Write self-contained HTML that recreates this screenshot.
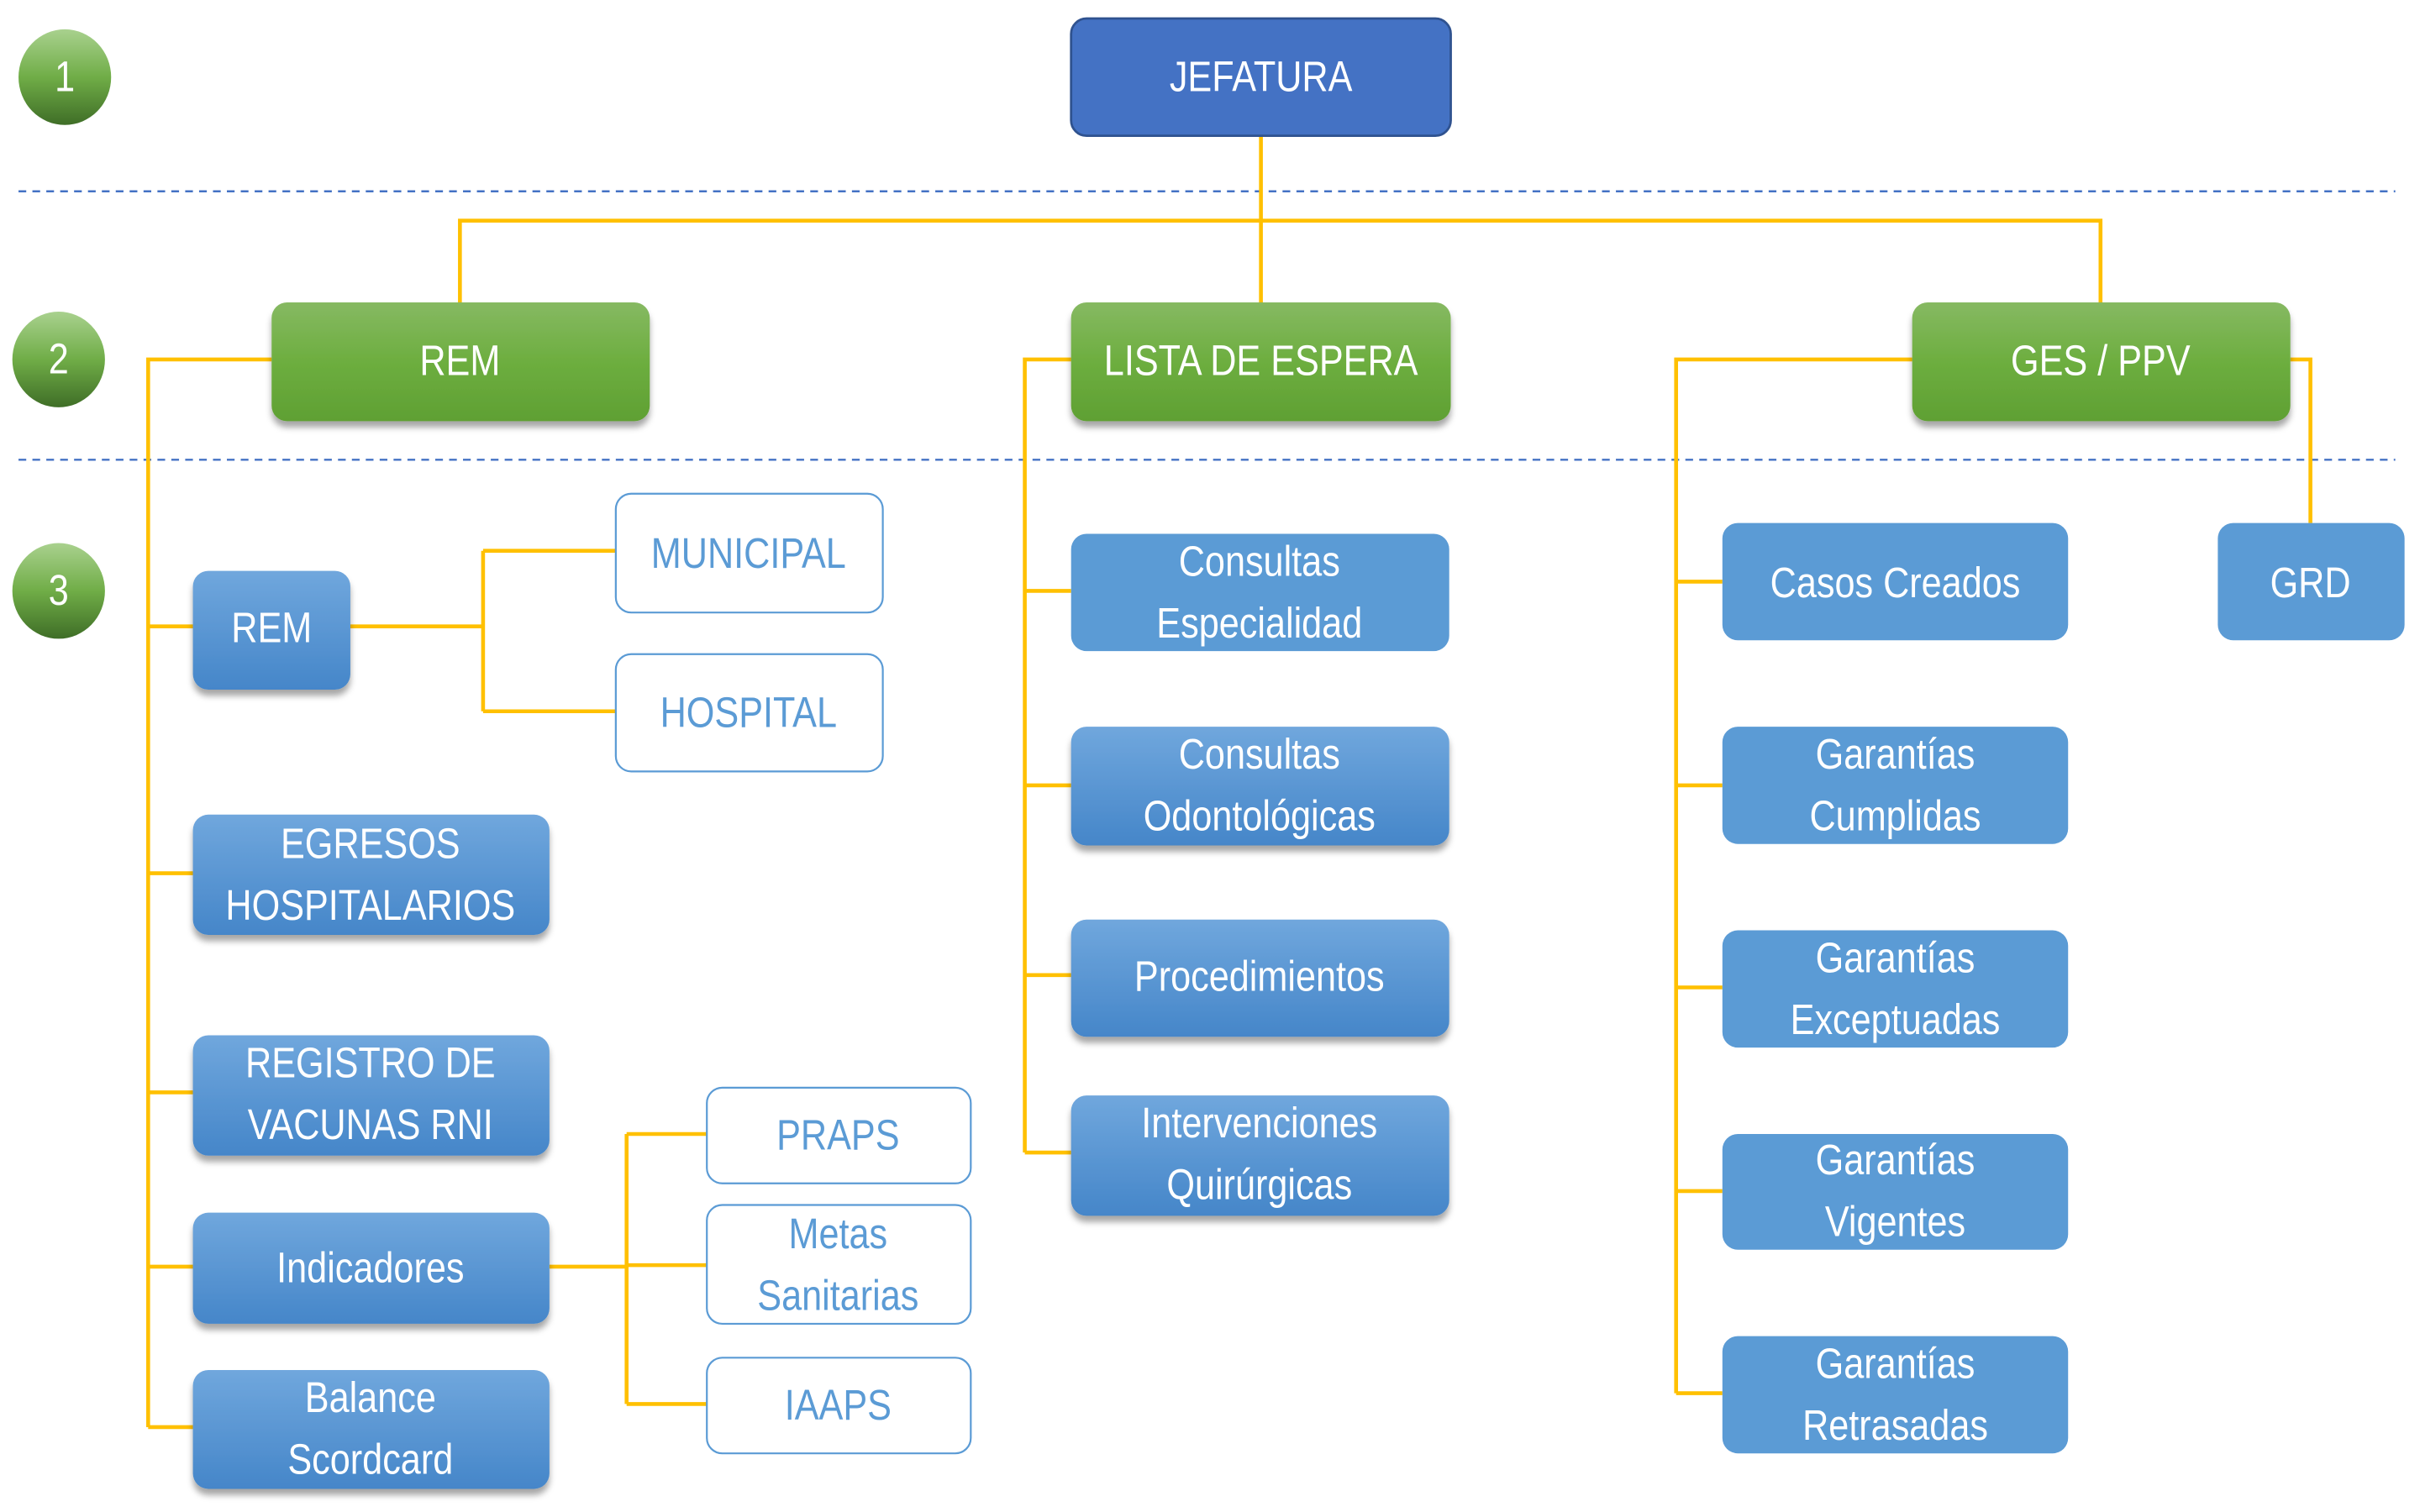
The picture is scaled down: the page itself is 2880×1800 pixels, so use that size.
<!DOCTYPE html>
<html><head><meta charset="utf-8"><style>
html,body{margin:0;padding:0;background:#fff;width:2880px;height:1800px;overflow:hidden}
svg{display:block}
text{font-family:"Liberation Sans",sans-serif;font-size:28px;text-anchor:middle;dominant-baseline:central;transform-box:fill-box;transform-origin:center;transform:scaleX(0.84)}
</style></head><body>
<svg width="2880" height="1800" viewBox="0 0 1568 980" xmlns="http://www.w3.org/2000/svg">
<defs>
<linearGradient id="cg" x1="0" y1="0" x2="0" y2="1"><stop offset="0" stop-color="#A9D18E"/><stop offset="0.5" stop-color="#70AD47"/><stop offset="1" stop-color="#3F6E27"/></linearGradient>
<linearGradient id="gg" x1="0" y1="0" x2="0" y2="1"><stop offset="0" stop-color="#86B962"/><stop offset="0.5" stop-color="#6DAE3F"/><stop offset="1" stop-color="#5FA033"/></linearGradient>
<linearGradient id="bg" x1="0" y1="0" x2="0" y2="1"><stop offset="0" stop-color="#70A7DD"/><stop offset="1" stop-color="#4586C9"/></linearGradient>
<filter id="sh" x="-10%" y="-10%" width="120%" height="130%"><feDropShadow dx="0" dy="4" stdDeviation="2" flood-color="#000" flood-opacity="0.35"/></filter>
</defs>

<g stroke="#4472C4" stroke-width="1.3" stroke-dasharray="5,4">
<line x1="12" y1="124" x2="1552" y2="124"/>
<line x1="12" y1="298" x2="1552" y2="298"/>
</g>

<g stroke="#FFC000" stroke-width="2.5" fill="none">
<path d="M817 88V196M298 196V143H1361V196"/>
<path d="M176 233H96V925M96 406H125M96 566H125M96 708H125M96 821H125M96 925H125"/>
<path d="M227 406H313M313 357V461M313 357H399M313 461H399"/>
<path d="M356 821H406M406 735V910M406 735H458M406 820H458M406 910H458"/>
<path d="M694 233H664V747M664 383H694M664 509H694M664 632H694M664 747H694"/>
<path d="M1239 233H1086V903M1086 377H1116M1086 509H1116M1086 640H1116M1086 772H1116M1086 903H1116"/>
<path d="M1484 233H1497V339"/>
</g>

<ellipse cx="42" cy="50" rx="30" ry="31" fill="url(#cg)"/>
<ellipse cx="38" cy="233" rx="30" ry="31" fill="url(#cg)"/>
<ellipse cx="38" cy="383" rx="30" ry="31" fill="url(#cg)"/>
<g fill="#fff"><text x="42" y="50">1</text><text x="38" y="233">2</text><text x="38" y="383">3</text></g>

<rect x="694" y="12" width="246" height="76" rx="10" fill="#4472C4" stroke="#2F528F" stroke-width="1.5"/>
<text x="817" y="50" fill="#fff">JEFATURA</text>

<g filter="url(#sh)" fill="url(#gg)">
<rect x="176" y="196" width="245" height="77" rx="10"/>
<rect x="694" y="196" width="246" height="77" rx="10"/>
<rect x="1239" y="196" width="245" height="77" rx="10"/>
</g>
<g fill="#fff">
<text x="298" y="234">REM</text>
<text x="817" y="234">LISTA DE ESPERA</text>
<text x="1361" y="234">GES / PPV</text>
</g>

<g filter="url(#sh)" fill="url(#bg)">
<rect x="125" y="370" width="102" height="77" rx="10"/>
<rect x="125" y="528" width="231" height="78" rx="10"/>
<rect x="125" y="671" width="231" height="78" rx="10"/>
<rect x="125" y="786" width="231" height="72" rx="10"/>
<rect x="125" y="888" width="231" height="77" rx="10"/>
<rect x="694" y="471" width="245" height="77" rx="10"/>
<rect x="694" y="596" width="245" height="76" rx="10"/>
<rect x="694" y="710" width="245" height="78" rx="10"/>
</g>
<g fill="#5B9BD5">
<rect x="694" y="346" width="245" height="76" rx="10"/>
<rect x="1116" y="339" width="224" height="76" rx="10"/>
<rect x="1116" y="471" width="224" height="76" rx="10"/>
<rect x="1116" y="603" width="224" height="76" rx="10"/>
<rect x="1116" y="735" width="224" height="75" rx="10"/>
<rect x="1116" y="866" width="224" height="76" rx="10"/>
<rect x="1437" y="339" width="121" height="76" rx="10"/>
</g>
<g fill="#fff" stroke="#5B9BD5" stroke-width="1.2">
<rect x="399" y="320" width="173" height="77" rx="10"/>
<rect x="399" y="424" width="173" height="76" rx="10"/>
<rect x="458" y="705" width="171" height="62" rx="10"/>
<rect x="458" y="781" width="171" height="77" rx="10"/>
<rect x="458" y="880" width="171" height="62" rx="10"/>
</g>

<g fill="#fff">
<text x="176" y="407">REM</text>
<text x="240" y="547">EGRESOS</text><text x="240" y="587">HOSPITALARIOS</text>
<text x="240" y="689">REGISTRO DE</text><text x="240" y="729">VACUNAS RNI</text>
<text x="240" y="822">Indicadores</text>
<text x="240" y="906">Balance</text><text x="240" y="946">Scordcard</text>
<text x="816" y="364">Consultas</text><text x="816" y="404">Especialidad</text>
<text x="816" y="489">Consultas</text><text x="816" y="529">Odontológicas</text>
<text x="816" y="633">Procedimientos</text>
<text x="816" y="728">Intervenciones</text><text x="816" y="768">Quirúrgicas</text>
<text x="1228" y="378">Casos Creados</text>
<text x="1228" y="489">Garantías</text><text x="1228" y="529">Cumplidas</text>
<text x="1228" y="621">Garantías</text><text x="1228" y="661">Exceptuadas</text>
<text x="1228" y="752">Garantías</text><text x="1228" y="792">Vigentes</text>
<text x="1228" y="884">Garantías</text><text x="1228" y="924">Retrasadas</text>
<text x="1497" y="378">GRD</text>
</g>
<g fill="#5B9BD5">
<text x="485" y="359">MUNICIPAL</text>
<text x="485" y="462">HOSPITAL</text>
<text x="543" y="736">PRAPS</text>
<text x="543" y="800">Metas</text><text x="543" y="840">Sanitarias</text>
<text x="543" y="911">IAAPS</text>
</g>
</svg>
</body></html>
